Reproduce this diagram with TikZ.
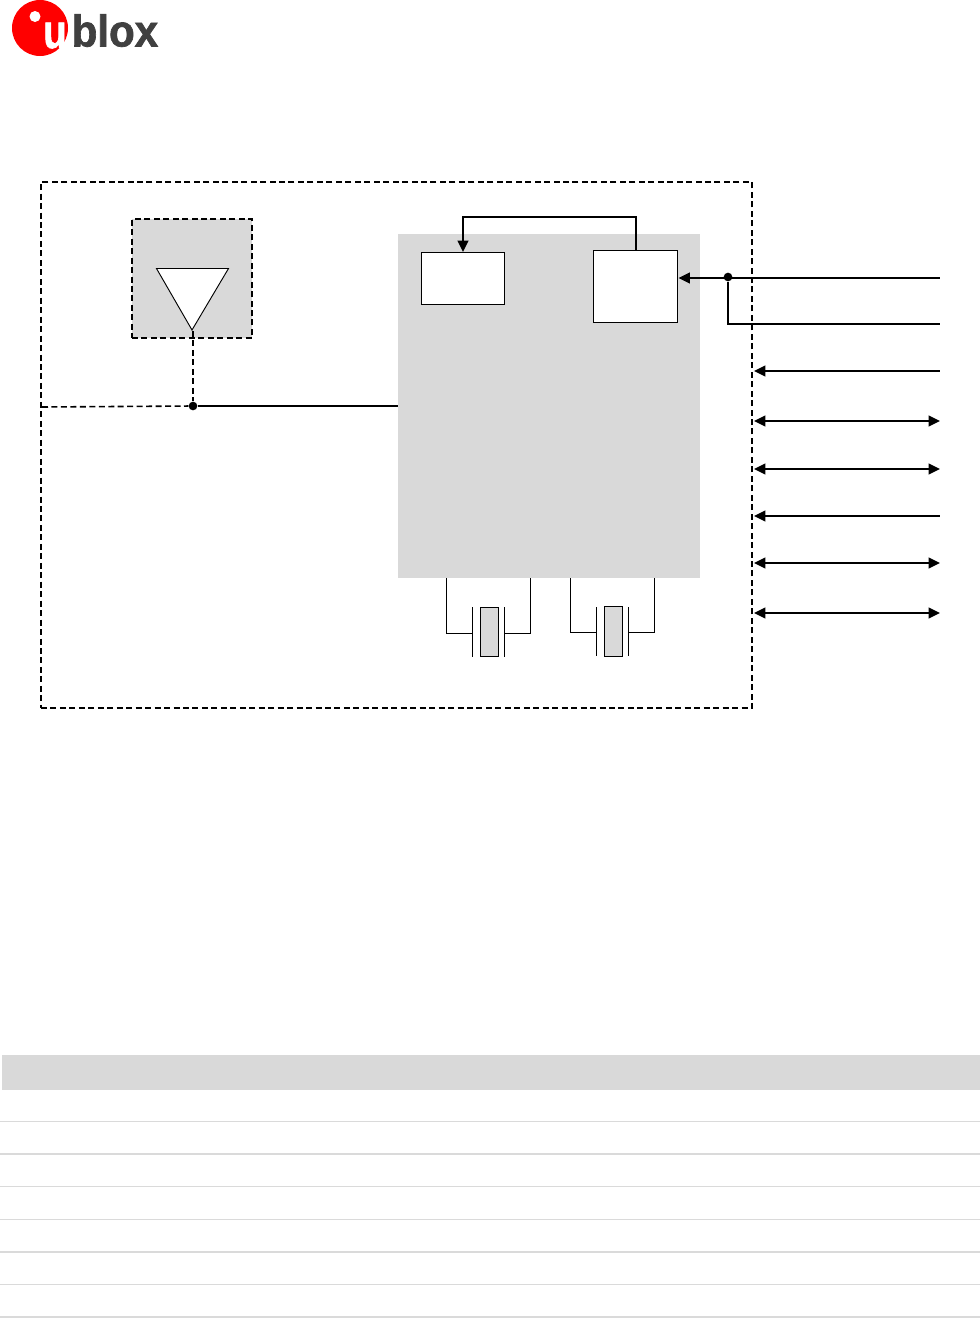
\documentclass[tikz,border=0pt]{standalone}
\usepackage{fontspec}
\setmainfont{Liberation Sans}
\newfontfamily\logofont[UprightFont={* Bold},FakeBold=1.6]{Liberation Sans}
\usetikzlibrary{arrows.meta}
\definecolor{panelgray}{HTML}{D9D9D9}
\definecolor{rulegray}{HTML}{DADADA}
\definecolor{logored}{HTML}{FF0000}
\definecolor{logodark}{HTML}{404040}
\tikzset{
  wire/.style={line width=1.35pt,black},
  thinwire/.style={line width=.95pt,black},
  dashwire/.style={line width=1.2pt,black,dash pattern=on 4.5pt off 2.6pt},
  tip/.style={{Triangle[length=8.5pt,width=8pt]}-},
  bothtip/.style={{Triangle[length=8.5pt,width=8pt]}-{Triangle[length=8.5pt,width=8pt]}},
  junction/.style={circle,fill=black,inner sep=0pt,minimum size=6.5pt},
  whitebox/.style={draw=black,line width=.7pt,fill=white,inner sep=0pt},
  xtal/.style={draw=black,line width=.85pt,fill=panelgray,inner sep=0pt,minimum width=13.5pt,minimum height=36.75pt},
  rowrule/.style={rulegray,line width=.8pt},
  rowrulebold/.style={rulegray,line width=1.5pt},
}
\begin{document}
\begin{tikzpicture}[x=.75pt,y=-.75pt]
  \useasboundingbox (0,0) rectangle (980,1318);
  % logo
  \fill[logored] (40,28) circle (28);
  \fill[white] (35,16.5) circle (5.5);
  \node[inner sep=0pt,anchor=base,white,xscale=.8,font=\logofont\fontsize{36}{36}\selectfont] (logou) at (55,48) {u};
  \node[inner sep=0pt,anchor=base west,logodark,xscale=.94,font=\logofont\fontsize{33.5}{34}\selectfont] (logotext) at (71.5,46.5) {blox};
  % module outline
  \node[draw=black,line width=1.1pt,dash pattern=on 4.5pt off 2.6pt,inner sep=0pt,minimum width=533.25pt,minimum height=394.5pt] (module) at (396.5,445) {};
  % antenna
  \node[draw=black,line width=1.1pt,dash pattern=on 4.5pt off 2.6pt,fill=panelgray,inner sep=0pt,minimum width=90pt,minimum height=89.25pt] (antbox) at (192,278.5) {};
  \coordinate (antl) at (156.5,268.5);
  \coordinate (antr) at (228.5,268.5);
  \coordinate (antb) at (192,330);
  \draw[fill=white,line width=.7pt] (antl) -- (antr) -- (antb) -- cycle;
  % chip
  \node[fill=panelgray,inner sep=0pt,minimum width=226.5pt,minimum height=258pt] (chip) at (549,406) {};
  \node[whitebox,minimum width=62.25pt,minimum height=39pt] (boxa) at (463,278.5) {};
  \node[whitebox,minimum width=63pt,minimum height=54pt] (boxb) at (635.5,286.5) {};
  \coordinate (boxbtop) at (636,250);
  \coordinate (loopup) at (636,217);
  \draw[wire,-{Triangle[length=8.5pt,width=8pt]}] (boxbtop) -- (loopup) -| (boxa.north);
  % rf line
  \node[junction] (rfdot) at (193,406) {};
  \coordinate (rfin) at (42,407);
  \coordinate (antfoot) at (193,331);
  \coordinate (chipin) at (398,406);
  \draw[dashwire] (antfoot) -- (rfdot);
  \draw[dashwire] (rfin) -- (rfdot);
  \draw[wire] (rfdot) -- (chipin);
  % supply lines
  \node[junction] (vdot) at (728,277) {};
  \coordinate (p1) at (940,278);
  \coordinate (p2) at (940,324);
  \coordinate (v1) at (678.5,278);
  \coordinate (v2) at (728,324);
  \draw[wire,tip] (v1) -- (p1);
  \draw[wire] (vdot) -- (v2) -- (p2);
  % pins
  \coordinate (a3) at (754,371);
  \coordinate (b3) at (940,371);
  \coordinate (a4) at (754,421);
  \coordinate (b4) at (940,421);
  \coordinate (a5) at (754,469);
  \coordinate (b5) at (940,469);
  \coordinate (a6) at (754,516);
  \coordinate (b6) at (940,516);
  \coordinate (a7) at (754,563);
  \coordinate (b7) at (940,563);
  \coordinate (a8) at (754,613);
  \coordinate (b8) at (940,613);
  \draw[wire,tip] (a3) -- (b3);
  \draw[wire,bothtip] (a4) -- (b4);
  \draw[wire,bothtip] (a5) -- (b5);
  \draw[wire,tip] (a6) -- (b6);
  \draw[wire,bothtip] (a7) -- (b7);
  \draw[wire,bothtip] (a8) -- (b8);
  % crystals
  \node[xtal] (xa) at (489.5,632) {};
  \node[xtal,minimum height=37.5pt] (xb) at (613.5,631.5) {};
  \coordinate (xa1) at (446.5,578);
  \coordinate (xa2) at (530.5,578);
  \coordinate (xa3) at (472.5,633.5);
  \coordinate (xa4) at (504.5,633.5);
  \coordinate (xb1) at (570.5,578);
  \coordinate (xb2) at (654.5,578);
  \coordinate (xb3) at (596.5,632.5);
  \coordinate (xb4) at (628.5,632.5);
  \draw[thinwire] (xa1) |- (xa3);
  \draw[thinwire] (xa2) |- (xa4);
  \draw[thinwire] (xb1) |- (xb3);
  \draw[thinwire] (xb2) |- (xb4);
  \draw[thinwire] (472.5,607) -- (472.5,657);
  \draw[thinwire] (504.5,607) -- (504.5,657);
  \draw[thinwire] (596.5,607) -- (596.5,656);
  \draw[thinwire] (628.5,607) -- (628.5,656);
  % table
  \fill[panelgray] (2,1055) rectangle (980,1090);
  \draw[rowrule] (0,1121.5) -- (980,1121.5);
  \draw[rowrulebold] (0,1154) -- (980,1154);
  \draw[rowrule] (0,1186.5) -- (980,1186.5);
  \draw[rowrule] (0,1219.5) -- (980,1219.5);
  \draw[rowrulebold] (0,1252) -- (980,1252);
  \draw[rowrule] (0,1284.5) -- (980,1284.5);
  \draw[rowrule] (0,1317) -- (980,1317);
\end{tikzpicture}
\end{document}
